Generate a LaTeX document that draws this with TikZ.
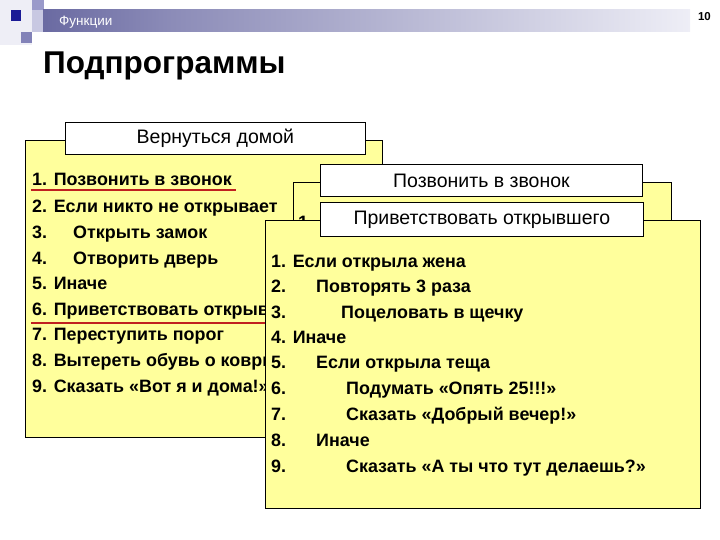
\documentclass[tikz,border=0pt]{standalone}
\usepackage{fontspec}
\setmainfont{Liberation Sans}
\definecolor{yfill}{HTML}{FFFF9C}
\definecolor{navy}{HTML}{16166A}
\definecolor{hdrmid}{HTML}{8C8CB8}
\definecolor{lav1}{HTML}{EEEEF6}
\definecolor{lav2}{HTML}{C8C8E2}
\definecolor{lav3}{HTML}{9A9ACA}
\definecolor{lav4}{HTML}{8282B8}
\definecolor{dblue}{HTML}{1A1A96}
\definecolor{redline}{HTML}{C02020}
\pgfdeclarehorizontalshading{hdr}{100bp}{color(0bp)=(navy); color(35bp)=(hdrmid); color(75bp)=(lav1); color(100bp)=(white)}
\tikzset{
  ybox/.style={fill=yfill, draw=black, line width=0.8pt},
  tbox/.style={fill=white, draw=black, line width=0.8pt},
  ttext/.style={font=\fontsize{19.5}{19.5}\selectfont, anchor=center, inner sep=0pt},
  item/.style={font=\bfseries\fontsize{17.9}{17.9}\selectfont, anchor=base west, inner sep=0pt},
  uline/.style={draw=redline, line width=1.3pt}
}
\begin{document}
\begin{tikzpicture}[x=1pt,y=-1pt]
\useasboundingbox (0,0) rectangle (720,540);
% header decoration
\fill[lav1] (0,0) rectangle (32,45);
\fill[lav2] (32,0) rectangle (44,32);
\fill[lav3] (32,0) rectangle (44,10);
\fill[lav4] (21,32) rectangle (32,43);
\fill[dblue] (11,10) rectangle (21,21);
\shade[shading=hdr] (43,10) rectangle (690,32);
\node[font=\fontsize{13.5}{13.5}\selectfont, text=white, anchor=base west, inner sep=0pt] (hdrtxt) at (59,26) {Функции};
\node[font=\bfseries\fontsize{11.5}{11.5}\selectfont, anchor=base east, inner sep=0pt] (pnum) at (711,21) {10};
% title
\node[font=\bfseries\fontsize{31.5}{31.5}\selectfont, anchor=base west, inner sep=0pt] (title) at (43,74) {Подпрограммы};

% Box 1
\draw[ybox] (25,140) rectangle (382,437);
\node[tbox, minimum width=300pt, minimum height=32pt, anchor=north west, inner sep=0pt] (t1) at (65,122) {};
\node[ttext] (t1txt) at (t1.center) {Вернуться домой};
\begin{scope}
\clip (25,140) -- (382,140) -- (382,220) -- (265,220) -- (265,437) -- (25,437) -- cycle;
\node[item] (a1) at (32,186) {1. Позвонить в звонок};
\node[item] (a2) at (32,212) {2. Если никто не открывает};
\node[item] (a3) at (32,238) {3.};
\node[item] (a3b) at (73,238) {Открыть замок};
\node[item] (a4) at (32,264) {4.};
\node[item] (a4b) at (73,264) {Отворить дверь};
\node[item] (a5) at (32,289) {5. Иначе};
\node[item] (a6) at (32,315) {6. Приветствовать открывшего};
\node[item] (a7) at (32,340) {7. Переступить порог};
\node[item] (a8) at (32,366) {8. Вытереть обувь о коврик};
\node[item] (a9) at (32,392) {9. Сказать «Вот я и дома!»};
\end{scope}
\coordinate (u1s) at (31,190);
\coordinate (u1e) at (236,190);
\draw[uline] (u1s) -- (u1e);
\coordinate (u6s) at (31,323);
\coordinate (u6e) at (266,323);
\draw[uline] (u6s) -- (u6e);

% Box 2
\draw[ybox] (293,182) rectangle (671,470);
\node[item] (b1) at (298,229) {1.};
\node[tbox, minimum width=322pt, minimum height=32pt, anchor=north west, inner sep=0pt] (t2) at (320,164) {};
\node[ttext] (t2txt) at (t2.center) {Позвонить в звонок};

% Box 3
\draw[ybox] (265,220) rectangle (700,508);
\node[tbox, minimum width=323pt, minimum height=34pt, anchor=north west, inner sep=0pt] (t3) at (320,202) {};
\node[ttext] (t3txt) at (t3.center) {Приветствовать открывшего};
\node[item] (c1) at (271,267) {1. Если открыла жена};
\node[item] (c2) at (271,292) {2.};
\node[item] (c2b) at (316,292) {Повторять 3 раза};
\node[item] (c3) at (271,318) {3.};
\node[item] (c3b) at (341,318) {Поцеловать в щечку};
\node[item] (c4) at (271,343) {4. Иначе};
\node[item] (c5) at (271,368) {5.};
\node[item] (c5b) at (316,368) {Если открыла теща};
\node[item] (c6) at (271,394) {6.};
\node[item] (c6b) at (346,394) {Подумать «Опять 25!!!»};
\node[item] (c7) at (271,420) {7.};
\node[item] (c7b) at (346,420) {Сказать «Добрый вечер!»};
\node[item] (c8) at (271,446) {8.};
\node[item] (c8b) at (316,446) {Иначе};
\node[item] (c9) at (271,472) {9.};
\node[item] (c9b) at (346,472) {Сказать «А ты что тут делаешь?»};
\end{tikzpicture}
\end{document}
